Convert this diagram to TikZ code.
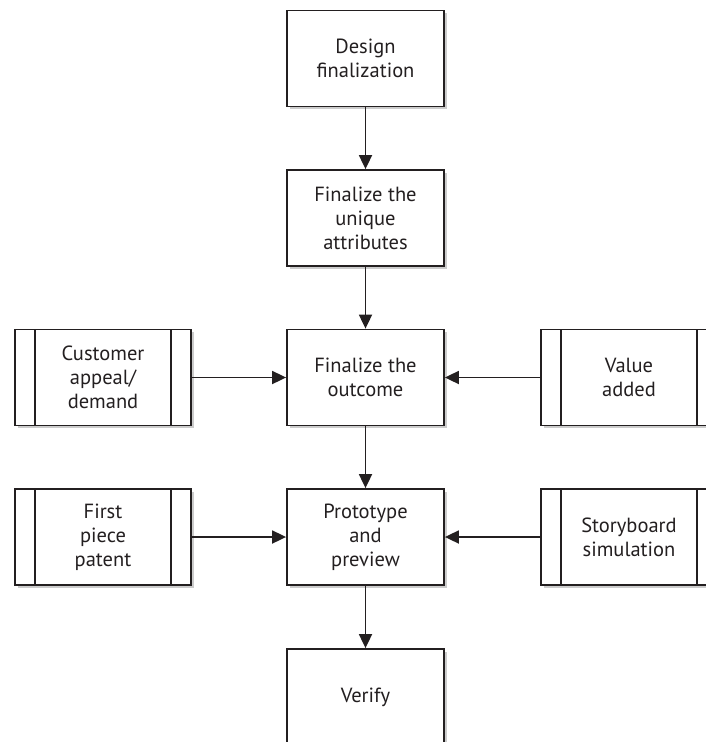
\documentclass[tikz,border=0pt]{standalone}
\usepackage{fontspec}
\setmainfont{PT Sans}
\usetikzlibrary{arrows.meta,shadows}
\definecolor{ink}{HTML}{231F20}
\tikzset{
  box/.style={draw=ink, line width=1.8pt, fill=white, text=ink,
    minimum width=157pt, minimum height=96pt, align=center,
    font=\fontsize{20.5}{24}\selectfont,
    drop shadow={shadow xshift=2.5pt, shadow yshift=-2.5pt, fill=black!25, opacity=0.8}},
  sidebox/.style={box, minimum width=176pt,
    path picture={
      \draw[ink, line width=1.8pt]
        ([xshift=20pt]path picture bounding box.north west) --
        ([xshift=20pt]path picture bounding box.south west)
        ([xshift=-20pt]path picture bounding box.north east) --
        ([xshift=-20pt]path picture bounding box.south east);
    }},
  flow/.style={draw=ink, line width=1.8pt, -{Triangle[length=14pt,width=13pt]}}
}
\begin{document}
\begin{tikzpicture}[x=1pt, y=-1pt]
  \useasboundingbox (0,0) rectangle (706,742);
  % main column
  \node[box] (design)  at (365.5,58.5)  {Design\\finalization};
  \node[box] (unique)  at (365.5,218)   {Finalize the\\unique\\attributes};
  \node[box] (outcome) at (365.5,377.5) {Finalize the\\outcome};
  \node[box] (proto)   at (365.5,537)   {Prototype\\and\\preview};
  \node[box] (verify)  at (365.5,697)   {Verify};
  % inputs on the left
  \node[sidebox] (appeal) at (103,377.5) {Customer\\appeal/\\demand};
  \node[sidebox] (patent) at (103,537)   {First\\piece\\patent};
  % inputs on the right
  \node[sidebox] (value) at (629,377.5) {Value\\added};
  \node[sidebox] (story) at (629,537)   {Storyboard\\simulation};
  % connectors
  \draw[flow] (design) -- (unique);
  \draw[flow] (unique) -- (outcome);
  \draw[flow] (outcome) -- (proto);
  \draw[flow] (proto) -- (verify);
  \draw[flow] (appeal) -- (outcome);
  \draw[flow] (value) -- (outcome);
  \draw[flow] (patent) -- (proto);
  \draw[flow] (story) -- (proto);
\end{tikzpicture}
\end{document}
